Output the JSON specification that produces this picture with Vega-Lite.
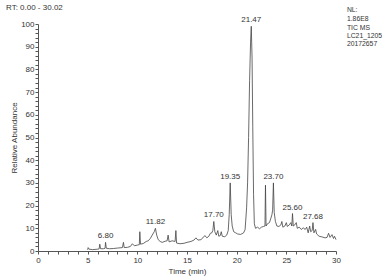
{
  "$schema": "https://vega.github.io/schema/vega-lite/v6.json",
  "width": 298,
  "height": 227,
  "autosize": "none",
  "padding": {"left": 38, "top": 24, "right": 49, "bottom": 29},
  "background": "white",
  "config": {"view": {"stroke": null}, "font": "Liberation Sans"},
  "title": {"text": "RT: 0.00 - 30.02", "anchor": "start", "frame": "group", "dx": -32, "dy": 9, "offset": 4, "fontSize": 8, "fontWeight": "normal", "color": "#333"},
  "datasets": {
    "trace": [
      {"t": 5.0, "v": 0.5}, {"t": 5.05, "v": 1.5}, {"t": 5.15, "v": 0.8}, {"t": 5.5, "v": 0.6}, {"t": 6.0, "v": 0.8},
      {"t": 6.15, "v": 0.9}, {"t": 6.22, "v": 3}, {"t": 6.3, "v": 1}, {"t": 6.6, "v": 1}, {"t": 6.75, "v": 1.2},
      {"t": 6.8, "v": 3.8}, {"t": 6.88, "v": 1.2}, {"t": 7.2, "v": 1}, {"t": 7.6, "v": 1.1}, {"t": 8.0, "v": 1.3},
      {"t": 8.5, "v": 1.5}, {"t": 8.6, "v": 3.8}, {"t": 8.68, "v": 1.5}, {"t": 9.0, "v": 1.6}, {"t": 9.3, "v": 2},
      {"t": 9.5, "v": 3.2}, {"t": 9.7, "v": 2.3}, {"t": 10.0, "v": 2.6}, {"t": 10.2, "v": 2.8}, {"t": 10.25, "v": 8.5},
      {"t": 10.32, "v": 3}, {"t": 10.6, "v": 3.3}, {"t": 10.9, "v": 4.2}, {"t": 11.1, "v": 4.5}, {"t": 11.3, "v": 5.5},
      {"t": 11.5, "v": 7}, {"t": 11.7, "v": 8.5}, {"t": 11.82, "v": 10}, {"t": 11.95, "v": 7}, {"t": 12.1, "v": 5},
      {"t": 12.3, "v": 4.2}, {"t": 12.5, "v": 3.8}, {"t": 12.8, "v": 4.3}, {"t": 13.0, "v": 4.5}, {"t": 13.1, "v": 7},
      {"t": 13.2, "v": 4}, {"t": 13.5, "v": 4.5}, {"t": 13.8, "v": 4.2}, {"t": 13.88, "v": 9}, {"t": 13.95, "v": 3.5},
      {"t": 14.3, "v": 3.2}, {"t": 14.7, "v": 3.4}, {"t": 15.0, "v": 3.8}, {"t": 15.4, "v": 4.2}, {"t": 15.7, "v": 4.8},
      {"t": 15.9, "v": 5.8}, {"t": 16.1, "v": 4.8}, {"t": 16.4, "v": 5}, {"t": 16.6, "v": 5.8}, {"t": 16.8, "v": 6.8},
      {"t": 17.0, "v": 5.8}, {"t": 17.2, "v": 6.5}, {"t": 17.35, "v": 7.8}, {"t": 17.5, "v": 8}, {"t": 17.6, "v": 9},
      {"t": 17.7, "v": 13}, {"t": 17.8, "v": 8.5}, {"t": 17.95, "v": 7}, {"t": 18.1, "v": 9}, {"t": 18.2, "v": 6.5},
      {"t": 18.35, "v": 6.8}, {"t": 18.45, "v": 8.5}, {"t": 18.55, "v": 6.5}, {"t": 18.8, "v": 6.3}, {"t": 19.0, "v": 7},
      {"t": 19.15, "v": 9}, {"t": 19.25, "v": 16}, {"t": 19.35, "v": 30}, {"t": 19.45, "v": 16}, {"t": 19.55, "v": 11},
      {"t": 19.7, "v": 8.5}, {"t": 19.9, "v": 8}, {"t": 20.1, "v": 7.5}, {"t": 20.4, "v": 7.3}, {"t": 20.7, "v": 8},
      {"t": 20.85, "v": 9.5}, {"t": 21.0, "v": 19}, {"t": 21.1, "v": 30}, {"t": 21.2, "v": 50}, {"t": 21.3, "v": 75},
      {"t": 21.4, "v": 92}, {"t": 21.47, "v": 99}, {"t": 21.55, "v": 85}, {"t": 21.62, "v": 55}, {"t": 21.7, "v": 25},
      {"t": 21.78, "v": 12}, {"t": 21.9, "v": 10}, {"t": 22.1, "v": 10.5}, {"t": 22.3, "v": 9.8}, {"t": 22.5, "v": 10.5},
      {"t": 22.7, "v": 10.8}, {"t": 22.85, "v": 11}, {"t": 22.9, "v": 29}, {"t": 22.96, "v": 11}, {"t": 23.1, "v": 12},
      {"t": 23.3, "v": 12.5}, {"t": 23.45, "v": 14.5}, {"t": 23.55, "v": 16}, {"t": 23.62, "v": 18}, {"t": 23.7, "v": 30},
      {"t": 23.78, "v": 17}, {"t": 23.9, "v": 13}, {"t": 24.05, "v": 11}, {"t": 24.25, "v": 10.8}, {"t": 24.45, "v": 11.5},
      {"t": 24.55, "v": 13}, {"t": 24.65, "v": 10.5}, {"t": 24.85, "v": 11}, {"t": 25.0, "v": 12.5}, {"t": 25.1, "v": 10.8},
      {"t": 25.3, "v": 11.5}, {"t": 25.45, "v": 12.5}, {"t": 25.55, "v": 11}, {"t": 25.62, "v": 16.5}, {"t": 25.7, "v": 11},
      {"t": 25.85, "v": 11.5}, {"t": 26.0, "v": 12.5}, {"t": 26.1, "v": 10}, {"t": 26.3, "v": 10.5}, {"t": 26.5, "v": 9.5},
      {"t": 26.7, "v": 10.2}, {"t": 26.9, "v": 9.5}, {"t": 27.05, "v": 10.5}, {"t": 27.2, "v": 8}, {"t": 27.35, "v": 11},
      {"t": 27.45, "v": 8.5}, {"t": 27.6, "v": 9}, {"t": 27.68, "v": 12.5}, {"t": 27.78, "v": 8}, {"t": 27.95, "v": 9.5},
      {"t": 28.05, "v": 7.5}, {"t": 28.3, "v": 6.5}, {"t": 28.6, "v": 6.2}, {"t": 28.9, "v": 5.8}, {"t": 29.1, "v": 6},
      {"t": 29.25, "v": 7.8}, {"t": 29.4, "v": 6}, {"t": 29.6, "v": 7.2}, {"t": 29.75, "v": 5.5}, {"t": 29.85, "v": 6.5},
      {"t": 30.0, "v": 5}
    ],
    "peaks": [
      {"t": 6.8, "v": 3.8, "label": "6.80"},
      {"t": 11.82, "v": 10, "label": "11.82"},
      {"t": 17.7, "v": 13, "label": "17.70"},
      {"t": 19.35, "v": 30, "label": "19.35"},
      {"t": 21.47, "v": 99, "label": "21.47"},
      {"t": 23.7, "v": 30, "label": "23.70"},
      {"t": 25.62, "v": 16.5, "label": "25.60"},
      {"t": 27.68, "v": 12.5, "label": "27.68"}
    ],
    "info": [
      {"t": 31.1, "v": 106, "label": "NL:"},
      {"t": 31.1, "v": 102.2, "label": "1.86E8"},
      {"t": 31.1, "v": 98.2, "label": "TIC  MS"},
      {"t": 31.1, "v": 94.6, "label": "LC21_1205"},
      {"t": 31.1, "v": 91.0, "label": "20172657"}
    ]
  },
  "layer": [
    {
      "data": {"name": "trace"},
      "mark": {"type": "line", "color": "#444", "strokeWidth": 0.8, "interpolate": "linear"},
      "encoding": {
        "x": {"field": "t", "type": "quantitative", "scale": {"domain": [0, 30], "nice": false},
          "axis": {"title": "Time (min)", "tickCount": 100, "format": "d", "values": [0,1,2,3,4,5,6,7,8,9,10,11,12,13,14,15,16,17,18,19,20,21,22,23,24,25,26,27,28,29,30],
            "labelExpr": "datum.value % 5 == 0 ? datum.label : ''", "labelOverlap": false, "labelFlush": false, "grid": false, "domainColor": "#555", "tickColor": "#555",
            "tickSize": 3, "labelFontSize": 8, "labelColor": "#333", "labelPadding": 2, "titleFontSize": 8, "titleFontWeight": "normal", "titleColor": "#333", "titlePadding": 3}},
        "y": {"field": "v", "type": "quantitative", "scale": {"domain": [0, 100], "nice": false},
          "axis": {"title": "Relative Abundance", "tickCount": 100, "format": "d", "values": [0,2,4,6,8,10,12,14,16,18,20,22,24,26,28,30,32,34,36,38,40,42,44,46,48,50,52,54,56,58,60,62,64,66,68,70,72,74,76,78,80,82,84,86,88,90,92,94,96,98,100],
            "labelExpr": "datum.value % 10 == 0 ? datum.label : ''", "labelOverlap": false, "labelFlush": false, "grid": false, "domainColor": "#555", "tickColor": "#555",
            "tickSize": 3, "labelFontSize": 8, "labelColor": "#333", "labelPadding": 1, "titleFontSize": 8, "titleFontWeight": "normal", "titleColor": "#333", "titlePadding": 2}}
      }
    },
    {
      "data": {"name": "peaks"},
      "mark": {"type": "text", "fontSize": 8, "color": "#333", "baseline": "bottom", "dy": -2},
      "encoding": {
        "x": {"field": "t", "type": "quantitative"},
        "y": {"field": "v", "type": "quantitative"},
        "text": {"field": "label"}
      }
    },
    {
      "data": {"name": "info"},
      "mark": {"type": "text", "fontSize": 6.8, "color": "#333", "align": "left", "baseline": "middle", "clip": false},
      "encoding": {
        "x": {"field": "t", "type": "quantitative"},
        "y": {"field": "v", "type": "quantitative"},
        "text": {"field": "label"}
      }
    }
  ]
}
